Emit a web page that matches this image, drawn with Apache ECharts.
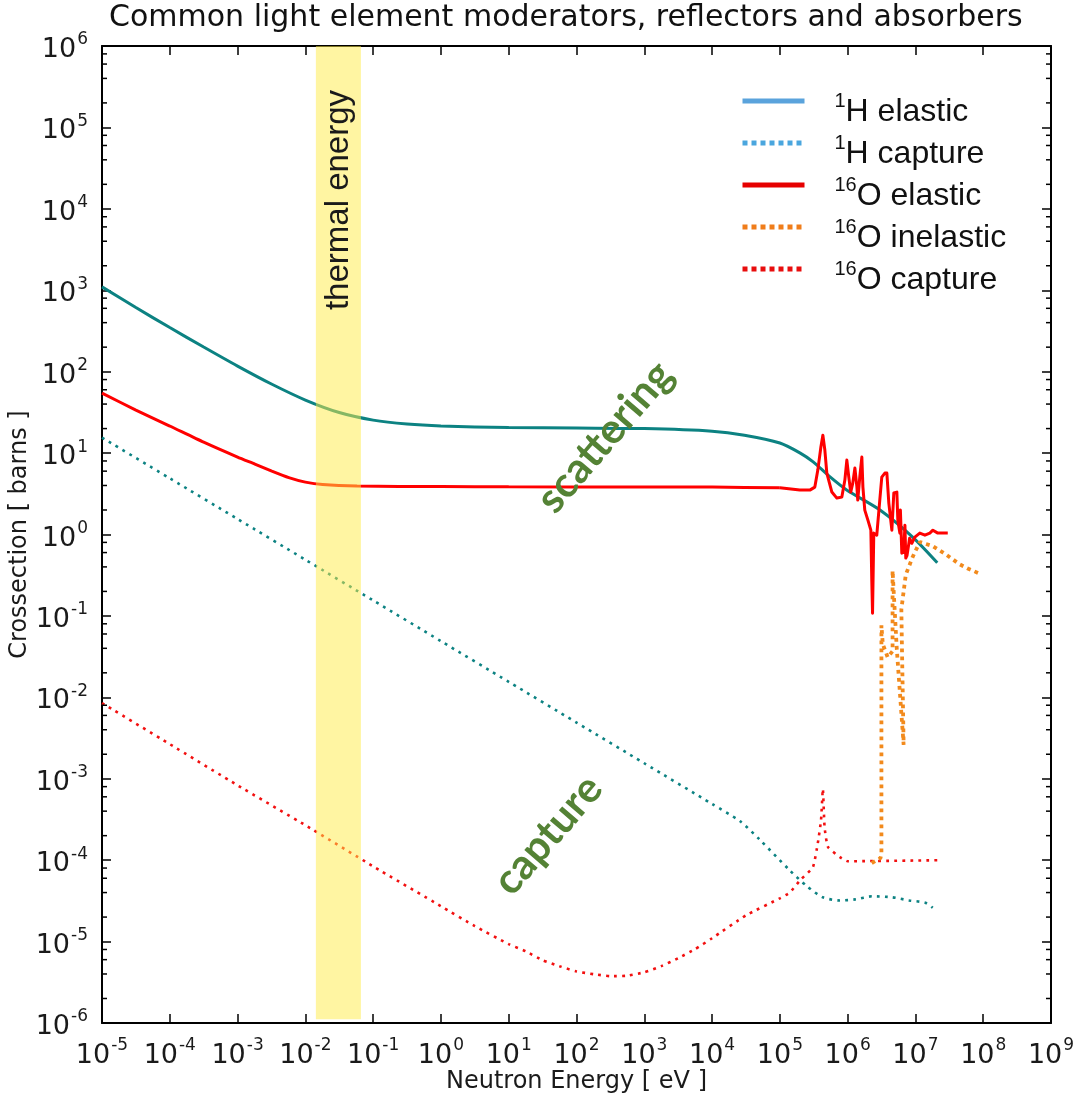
<!DOCTYPE html>
<html>
<head>
<meta charset="utf-8">
<script src="https://cdn.jsdelivr.net/npm/echarts@6/dist/echarts.min.js"></script>
<style>
  html, body { margin: 0; padding: 0; background: #ffffff; }
  #chart { width: 1076px; height: 1096px; }
</style>
</head>
<body>
<div id="chart"></div>
<script>
// Axis ranges: neutron energy (eV) and cross-section (barns)
const X_MIN = 1e-5, X_MAX = 1e9;
const Y_MIN = 1e-6, Y_MAX = 1e6;
const X_DECADES = 14, Y_DECADES = 12;

// Thermal neutron energy band (eV) and its vertical span (barns)
const THERMAL_E = [0.0143, 0.066];
const THERMAL_XS = [1.11e-6, 1e6];

// Minor tick multipliers inside each decade of the cross-section axis
const MINOR_MULT = [2, 4, 6, 8];

// Series labels: superscript mass number + rest of the name
const SERIES_NAMES = ['1H elastic', '1H capture', '16O elastic', '16O inelastic', '16O capture'];
const NAME_SUP = ['1', '1', '16', '16', '16'];
const NAME_TEXT = ['H elastic', 'H capture', 'O elastic', 'O inelastic', 'O capture'];

// 1H elastic scattering
const H_EL_E = [1e-5, 3.16e-5, 1e-4, 3.16e-4, 1e-3, 3.16e-3, 1e-2, 3.16e-2, 0.1, 0.316, 1, 10, 100, 1e3,
  1e4, 3e4, 1e5, 2e5, 3.1e5, 5.5e5, 9.8e5, 3e6, 9.1e6, 2.1e7];
const H_EL_XS = [1100, 613, 348, 200.5, 117, 70.5, 44.8, 31.5, 25.4, 22.7, 21.5, 20.6, 20.3, 20.0,
  18.6, 16.6, 13.3, 10.0, 7.8, 5.1, 3.5, 2.0, 0.93, 0.45];

// 1H radiative capture
const H_CAP_E = [1e-5, 1e-4, 1e-3, 1e-2, 0.1, 1, 10, 100, 1e3, 1e4, 2.6e4, 5e4, 1.4e5, 2.5e5,
  4.3e5, 7.7e5, 1.3e6, 2.3e6, 4.5e6, 8.1e6, 1.4e7, 1.8e7];
const H_CAP_XS = [15.5, 4.9, 1.55, 0.49, 0.155, 0.049, 0.0155, 4.9e-3, 1.55e-3, 4.9e-4, 3.0e-4, 1.8e-4, 7.5e-5, 4.8e-5,
  3.5e-5, 3.2e-5, 3.3e-5, 3.6e-5, 3.5e-5, 3.2e-5, 3.0e-5, 2.6e-5];

// 16O elastic scattering: smooth low-energy region up to 100 keV ...
const O_EL_LOW_E = [1e-5, 3.16e-5, 1e-4, 3.16e-4, 1e-3, 1.8e-3, 3.2e-3, 5.7e-3, 1e-2, 1.8e-2, 5.8e-2,
  1, 10, 1e3, 1e4, 1e5];
const O_EL_LOW_XS = [54.6, 33.7, 21.5, 13.6, 8.93, 7.33, 6.01, 5.0, 4.4, 4.1, 3.93,
  3.88, 3.85, 3.84, 3.82, 3.75];
// ... and the resonance region above 100 keV
const O_EL_RES_E = [1e5, 1.97e5, 2.77e5, 3.28e5, 3.63e5, 4.03e5, 4.31e5, 4.61e5, 4.93e5,
  5.85e5, 6.93e5, 8.21e5, 9.1e5, 9.73e5, 1.04e6, 1.11e6, 1.19e6, 1.28e6, 1.37e6, 1.41e6, 1.51e6,
  1.62e6, 1.68e6, 1.79e6, 1.99e6, 2.2e6, 2.27e6, 2.33e6, 2.43e6, 2.69e6, 2.98e6, 3.19e6, 3.54e6,
  3.79e6, 4.05e6, 4.49e6, 4.8e6, 5.32e6, 5.5e6, 5.89e6, 6.0e6, 6.3e6, 6.52e6, 6.7e6, 7.0e6, 7.21e6,
  7.5e6, 7.73e6, 8.2e6, 8.85e6, 9.8e6, 1.16e7, 1.38e7, 1.63e7, 1.81e7, 2.14e7, 2.53e7, 3.0e7];
const O_EL_RES_XS = [3.75, 3.51, 3.51, 3.82, 6.18, 11.9, 16.6, 10.9, 5.68,
  3.32, 2.80, 2.88, 4.66, 8.2, 5.07, 3.32, 4.28, 6.55, 3.82, 2.65, 5.07,
  8.93, 3.82, 1.99, 1.50, 1.13, 0.275, 0.108, 1.04, 0.98, 2.65, 5.07, 5.68,
  5.68, 2.43, 1.13, 3.23, 3.32, 1.50, 1.04, 2.0, 0.59, 0.853, 0.6, 1.3, 0.513,
  0.55, 0.643, 0.9, 0.78, 0.93, 1.04, 0.98, 1.04, 1.13, 1.04, 1.04, 1.04];

// 16O inelastic scattering
const O_INEL_E = [2.27e6, 3.05e6, 3.15e6, 3.15e6, 3.3e6, 3.9e6, 4.6e6, 4.6e6, 5.3e6, 6.7e6, 6.3e6, 6.2e6,
  7.2e6, 9.1e6, 1.16e7, 1.8e7, 2.9e7, 4.5e7, 5.8e7, 8.9e7];
const O_INEL_XS = [9.2e-5, 1.06e-4, 1.2e-4, 0.077, 0.045, 0.031, 0.037, 0.36, 0.04, 2.6e-3, 0.05, 0.12,
  0.32, 0.53, 0.81, 0.72, 0.56, 0.43, 0.386, 0.33];

// 16O radiative capture
const O_CAP_E = [1e-5, 1e-4, 1e-3, 1e-2, 0.1, 1, 3.16, 10, 17.8, 31.6, 56, 100, 178, 316, 562, 1e3,
  1.78e3, 3.16e3, 5.6e3, 1e4, 3.16e4, 1e5, 1.4e5, 2e5, 3.07e5, 3.63e5, 4.05e5, 4.31e5, 4.57e5,
  5.13e5, 7.7e5, 1e6, 2.5e7];
const O_CAP_XS = [8.5e-3, 2.66e-3, 8.3e-4, 2.69e-4, 8.4e-5, 2.72e-5, 1.55e-5, 9.3e-6, 7.6e-6, 5.9e-6, 4.99e-6, 4.3e-6,
  3.98e-6, 3.76e-6, 3.81e-6, 4.2e-6, 4.99e-6, 6.25e-6, 8.07e-6, 1.1e-5, 2.1e-5, 3.4e-5, 4.0e-5, 5.7e-5,
  8.2e-5, 1.62e-4, 3.1e-4, 7.5e-4, 2.54e-4, 1.45e-4, 1.09e-4, 9.7e-5, 1.0e-4];

const zip = (xs, ys) => xs.map((x, i) => [x, ys[i]]);

// Minor tick values on the cross-section axis (2,4,6,8 x 10^n)
const minorTickValues = [];
for (let e = Math.log10(Y_MIN); e < Math.log10(Y_MAX); e++) {
  MINOR_MULT.forEach(m => minorTickValues.push(m * Math.pow(10, e)));
}

const FONT = 'DejaVu Sans';
const LEGEND_FONT = 'Liberation Sans';
const powLabel = v => '{b|10}{s|' + Math.round(Math.log10(v)) + '}';
const tickRich = {
  b: { fontFamily: FONT, fontSize: 27, color: '#1a1a1a', padding: [8, 0, 0, 0] },
  s: { fontFamily: FONT, fontSize: 17, color: '#1a1a1a', verticalAlign: 'top', padding: [3, 0, 0, 1] }
};
const axisLineStyle = { show: true, lineStyle: { color: '#000', width: 2 } };
const majorTick = { show: true, inside: true, length: 9, lineStyle: { color: '#000', width: 1.5 } };

const chart = echarts.init(document.getElementById('chart'), null, { renderer: 'canvas' });

const LEGEND_COLORS = ['#5aa3dc', '#4aa6de', '#e60000', '#f07d1a', '#e80d0d'];
const LEGEND_TYPES = ['solid', [5, 4], 'solid', [5, 4], [5, 4]];

const TEAL = '#0c8282';

chart.setOption({
  animation: false,
  backgroundColor: '#ffffff',
  title: {
    text: 'Common light element moderators, reflectors and absorbers',
    left: 109, top: 3, padding: 0,
    textStyle: { fontFamily: FONT, fontSize: 30, fontWeight: 'normal', color: '#111' }
  },
  grid: { left: 102, right: 25, top: 46, bottom: 73, containLabel: false, outerBoundsMode: 'none' },
  legend: {
    orient: 'vertical', left: 740, top: 91, padding: 0,
    itemWidth: 62, itemHeight: 14, itemGap: 5, selectedMode: false,
    data: SERIES_NAMES.map((n, i) => ({
      name: n,
      lineStyle: { color: LEGEND_COLORS[i], width: 5, type: LEGEND_TYPES[i], cap: 'butt' },
      itemStyle: { color: 'rgba(0,0,0,0)', opacity: 0, borderWidth: 0 }
    })),
    formatter: name => {
      const i = SERIES_NAMES.indexOf(name);
      return '{s|' + NAME_SUP[i] + '}{b|' + NAME_TEXT[i] + '}';
    },
    textStyle: {
      fontFamily: LEGEND_FONT, fontSize: 32, color: '#111',
      rich: {
        s: { fontFamily: LEGEND_FONT, fontSize: 20, color: '#111', verticalAlign: 'top', padding: [17, 0, 0, 25] },
        b: { fontFamily: LEGEND_FONT, fontSize: 32, color: '#111', padding: [22, 0, 0, 0] }
      }
    }
  },
  xAxis: [
    {
      type: 'log', logBase: 10, min: X_MIN, max: X_MAX, interval: 1, splitNumber: X_DECADES, position: 'bottom',
      axisLine: axisLineStyle, axisTick: majorTick, splitLine: { show: false },
      axisLabel: { interval: 0, margin: 11, formatter: powLabel, rich: tickRich, showMinLabel: true, showMaxLabel: true },
      name: 'Neutron Energy [ eV ]', nameLocation: 'middle', nameGap: 47, nameMoveOverlap: false,
      nameTextStyle: { fontFamily: FONT, fontSize: 24, color: '#1a1a1a' }
    },
    {
      type: 'log', logBase: 10, min: X_MIN, max: X_MAX, interval: 1, splitNumber: X_DECADES, position: 'top',
      axisLine: axisLineStyle, axisTick: majorTick, splitLine: { show: false }, axisLabel: { show: false }
    }
  ],
  yAxis: [
    {
      type: 'log', logBase: 10, min: Y_MIN, max: Y_MAX, interval: 1, splitNumber: Y_DECADES, position: 'left',
      axisLine: axisLineStyle, axisTick: majorTick, splitLine: { show: false },
      axisLabel: { interval: 0, margin: 14, formatter: powLabel, rich: tickRich, showMinLabel: true, showMaxLabel: true },
      name: 'Crossection [ barns ]', nameLocation: 'middle', nameGap: 70, nameMoveOverlap: false,
      nameTextStyle: { fontFamily: FONT, fontSize: 24, color: '#1a1a1a' }
    },
    {
      type: 'log', logBase: 10, min: Y_MIN, max: Y_MAX, interval: 1, splitNumber: Y_DECADES, position: 'right',
      axisLine: axisLineStyle, axisTick: majorTick, splitLine: { show: false }, axisLabel: { show: false }
    }
  ],
  series: [
    {
      name: SERIES_NAMES[0], type: 'line', data: zip(H_EL_E, H_EL_XS), symbol: 'none', smooth: 0.25, z: 2,
      lineStyle: { color: TEAL, width: 3 }, itemStyle: { color: LEGEND_COLORS[0] }
    },
    {
      name: SERIES_NAMES[1], type: 'line', data: zip(H_CAP_E, H_CAP_XS), symbol: 'none', smooth: 0.25, z: 2,
      lineStyle: { color: TEAL, width: 2.6, type: [2.8, 5.2], cap: 'butt' }, itemStyle: { color: LEGEND_COLORS[1] }
    },
    {
      name: SERIES_NAMES[4], type: 'line', data: zip(O_CAP_E, O_CAP_XS), symbol: 'none', smooth: 0.15, z: 2,
      lineStyle: { color: '#f21010', width: 2.6, type: [2.8, 5.2], cap: 'butt' }, itemStyle: { color: LEGEND_COLORS[4] }
    },
    {
      name: SERIES_NAMES[2], type: 'line', data: zip(O_EL_LOW_E, O_EL_LOW_XS), symbol: 'none', smooth: 0.2, z: 3,
      lineStyle: { color: '#ff0000', width: 3 }, itemStyle: { color: LEGEND_COLORS[2] }
    },
    {
      name: SERIES_NAMES[2], type: 'line', data: zip(O_EL_RES_E, O_EL_RES_XS), symbol: 'none', z: 3,
      lineStyle: { color: '#ff0000', width: 3, join: 'round' }, itemStyle: { color: LEGEND_COLORS[2] }
    },
    {
      name: SERIES_NAMES[3], type: 'line', data: zip(O_INEL_E, O_INEL_XS), symbol: 'none', z: 3,
      lineStyle: { color: '#f28a1c', width: 3.8, type: [3.8, 4.2], cap: 'butt' }, itemStyle: { color: LEGEND_COLORS[3] }
    },
    {
      // thermal energy band, drawn over the curves
      type: 'custom', silent: true, z: 5, clip: false,
      data: [[THERMAL_E[0], THERMAL_XS[0], THERMAL_E[1], THERMAL_XS[1]]],
      encode: { x: [0, 2], y: [1, 3] },
      renderItem: (params, api) => {
        const p0 = api.coord([api.value(0), api.value(1)]);
        const p1 = api.coord([api.value(2), api.value(3)]);
        return {
          type: 'rect',
          shape: { x: p0[0], y: p1[1], width: p1[0] - p0[0], height: p0[1] - p1[1] },
          style: { fill: 'rgba(255, 236, 70, 0.5)' }
        };
      }
    },
    {
      // minor ticks on the left and right cross-section axes
      type: 'custom', silent: true, z: 6, clip: false,
      data: minorTickValues.map(v => [X_MIN, v]),
      renderItem: (params, api) => {
        const v = api.value(1);
        const l = api.coord([X_MIN, v]);
        const r = api.coord([X_MAX, v]);
        const st = { stroke: '#000', lineWidth: 1.5 };
        return {
          type: 'group',
          children: [
            { type: 'line', shape: { x1: l[0], y1: l[1], x2: l[0] + 5, y2: l[1] }, style: st },
            { type: 'line', shape: { x1: r[0], y1: r[1], x2: r[0] - 5, y2: r[1] }, style: st }
          ]
        };
      }
    }
  ],
  graphic: [
    {
      type: 'text', x: 339, y: 200, rotation: Math.PI / 2, z: 100,
      style: { text: 'thermal energy', fontFamily: 'Liberation Sans', fontSize: 33, fill: '#1a1a1a',
        align: 'center', verticalAlign: 'middle', textAlign: 'center', textVerticalAlign: 'middle' }
    },
    {
      type: 'text', x: 605, y: 437, rotation: 0.86, z: 100,
      style: { text: 'scattering', fontFamily: 'Lato', fontWeight: 'bold', fontSize: 42, fill: '#548235',
        align: 'center', verticalAlign: 'middle', textAlign: 'center', textVerticalAlign: 'middle' }
    },
    {
      type: 'text', x: 548, y: 835, rotation: 0.86, z: 100,
      style: { text: 'capture', fontFamily: 'Lato', fontWeight: 'bold', fontSize: 42, fill: '#548235',
        align: 'center', verticalAlign: 'middle', textAlign: 'center', textVerticalAlign: 'middle' }
    }
  ]
});
</script>
</body>
</html>
